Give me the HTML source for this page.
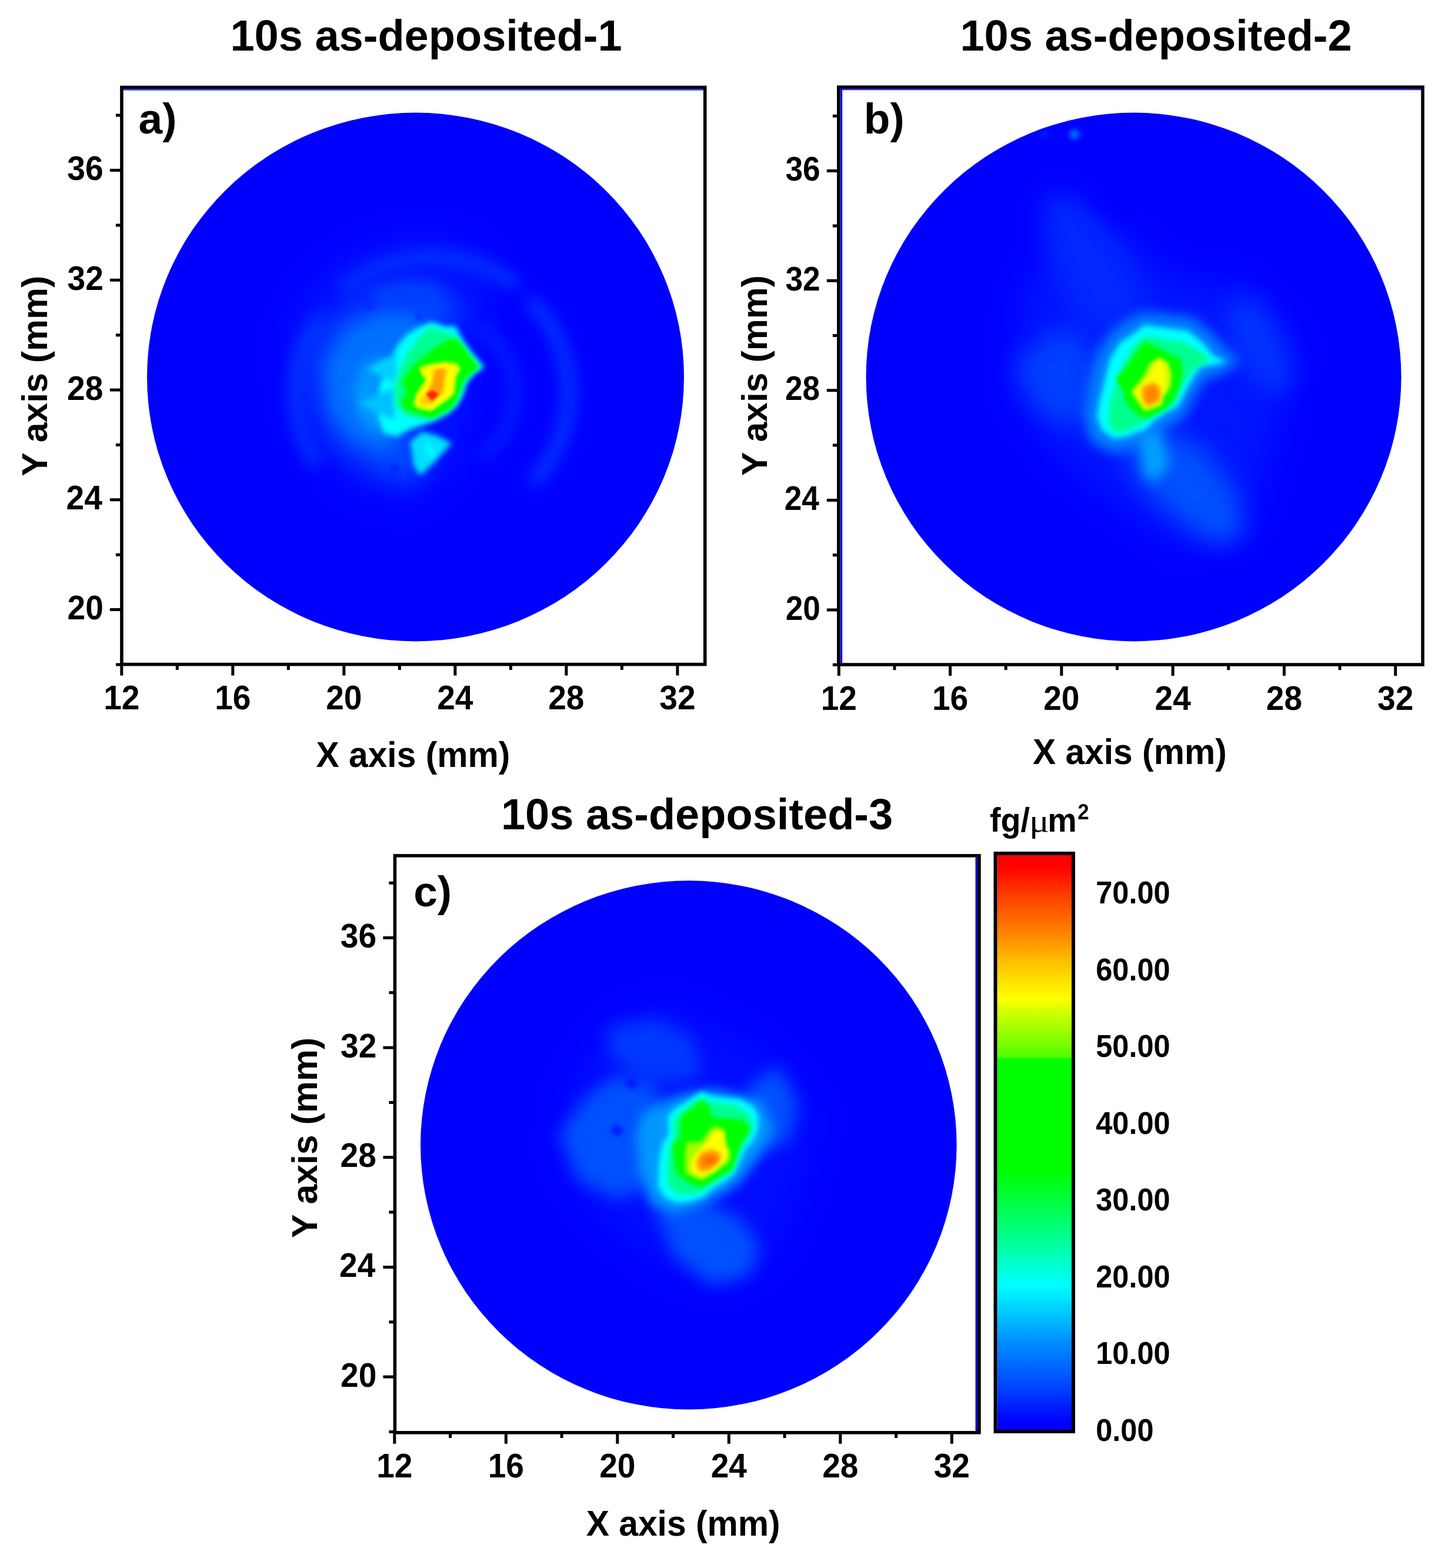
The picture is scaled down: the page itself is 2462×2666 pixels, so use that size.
<!DOCTYPE html>
<html><head><meta charset="utf-8"><title>10s as-deposited</title>
<style>html,body{margin:0;padding:0;background:#fff;width:2462px;height:2666px;overflow:hidden}svg{display:block}text{font-kerning:none}</style>
</head><body>
<svg width="2462" height="2666" viewBox="0 0 2462 2666"><rect width="2462" height="2666" fill="#fff"/><defs><filter id="bl2" x="-50%" y="-50%" width="200%" height="200%" color-interpolation-filters="sRGB"><feGaussianBlur stdDeviation="2"/></filter><filter id="bl3" x="-50%" y="-50%" width="200%" height="200%" color-interpolation-filters="sRGB"><feGaussianBlur stdDeviation="3"/></filter><filter id="bl4" x="-50%" y="-50%" width="200%" height="200%" color-interpolation-filters="sRGB"><feGaussianBlur stdDeviation="4"/></filter><filter id="bl5" x="-50%" y="-50%" width="200%" height="200%" color-interpolation-filters="sRGB"><feGaussianBlur stdDeviation="5"/></filter><filter id="bl9" x="-50%" y="-50%" width="200%" height="200%" color-interpolation-filters="sRGB"><feGaussianBlur stdDeviation="9"/></filter><filter id="bl10" x="-50%" y="-50%" width="200%" height="200%" color-interpolation-filters="sRGB"><feGaussianBlur stdDeviation="10"/></filter><filter id="bl12" x="-50%" y="-50%" width="200%" height="200%" color-interpolation-filters="sRGB"><feGaussianBlur stdDeviation="12"/></filter><filter id="bl14" x="-50%" y="-50%" width="200%" height="200%" color-interpolation-filters="sRGB"><feGaussianBlur stdDeviation="14"/></filter><filter id="bl20" x="-50%" y="-50%" width="200%" height="200%" color-interpolation-filters="sRGB"><feGaussianBlur stdDeviation="20"/></filter><filter id="bl30" x="-50%" y="-50%" width="200%" height="200%" color-interpolation-filters="sRGB"><feGaussianBlur stdDeviation="30"/></filter></defs><text transform="translate(391.4,85.5) scale(1.0000,1)" font-size="74" font-weight="bold" font-family="'Liberation Sans', Arial, sans-serif">10s as-deposited-1</text><text transform="translate(1632.4,85.5) scale(1.0000,1)" font-size="74" font-weight="bold" font-family="'Liberation Sans', Arial, sans-serif">10s as-deposited-2</text><text transform="translate(851.9,1409.6) scale(1.0000,1)" font-size="74" font-weight="bold" font-family="'Liberation Sans', Arial, sans-serif">10s as-deposited-3</text><g id="panel-a"><defs><clipPath id="clip-a"><ellipse cx="706.5" cy="641" rx="456.5" ry="449.4"/></clipPath></defs><ellipse cx="706.5" cy="641" rx="456.5" ry="449.4" fill="#0000ff"/><g clip-path="url(#clip-a)"><g filter="url(#bl30)"><path d="M485.5,576.2L538.3,477.7L626.2,417.9L731.7,400.3L819.7,428.5L837.3,488.3L812.6,576.2L795.1,681.7L784.5,787.3L696.6,857.6L591,822.4L513.7,734.5Z" fill="#0012ff"/></g><g filter="url(#bl12)"><path d="M534.1,781.1L531,775.8L528.1,770.3L525.3,764.8L522.7,759.3L520.3,753.7L518,748L515.8,742.2L513.9,736.4L512,730.5L510.4,724.6L508.9,718.7L507.6,712.7L506.4,706.7L505.4,700.7L504.6,694.6L504,688.5L503.5,682.4L503.2,676.3L503,670.2L503,664.1L503.2,657.9L503.6,651.8L504.1,645.7L504.8,639.6L505.7,633.6L506.7,627.6L507.9,621.5L509.3,615.6L510.9,609.6L512.6,603.8L514.4,597.9L516.4,592.1L518.6,586.4L521,580.7L523.5,575.1L526.1,569.6L528.9,564.1L531.9,558.7L535,553.4L538.3,548.1" fill="none" stroke="#0030ff" stroke-width="26" stroke-linejoin="round" stroke-linecap="round"/><path d="M589.7,486.7L595.7,482.3L601.8,478L608.1,474L614.5,470.1L621,466.5L627.7,463.1L634.4,459.8L641.3,456.8L648.2,454L655.3,451.4L662.4,449.1L669.6,446.9L676.8,445L684.1,443.3L691.5,441.8L698.9,440.6L706.3,439.6L713.8,438.8L721.3,438.3L728.8,438L736.3,437.9L743.9,438.1L751.4,438.5L758.8,439.1L766.3,439.9L773.7,441L781.1,442.3L788.5,443.9L795.8,445.7L803,447.7L810.2,449.9L817.3,452.3L824.3,455L831.2,457.9L838,461L844.7,464.3L851.3,467.8L857.8,471.5L864.1,475.4L870.4,479.5" fill="none" stroke="#0030ff" stroke-width="26" stroke-linejoin="round" stroke-linecap="round"/><path d="M907.4,516.6L912.9,522.8L918.1,529L923,535.5L927.8,542.2L932.3,549L936.5,555.9L940.5,563L944.2,570.3L947.7,577.6L950.9,585.1L953.8,592.7L956.4,600.4L958.7,608.1L960.8,616L962.5,623.9L964,631.8L965.2,639.8L966.1,647.9L966.7,656L967,664.1L967,672.1L966.7,680.2L966.1,688.3L965.2,696.4L964,704.4L962.5,712.3L960.7,720.2L958.7,728.1L956.3,735.8L953.7,743.5L950.8,751.1L947.6,758.6L944.1,765.9L940.4,773.1L936.4,780.2L932.2,787.2L927.7,794L922.9,800.6L917.9,807.1L912.7,813.4" fill="none" stroke="#0030ff" stroke-width="26" stroke-linejoin="round" stroke-linecap="round"/><path d="M815.3,556.2L820.5,559.9L825.5,563.8L830.3,568L834.9,572.3L839.2,576.9L843.4,581.6L847.4,586.6L851.1,591.7L854.5,596.9L857.7,602.3L860.7,607.9L863.4,613.6L865.8,619.4L868,625.3L869.8,631.2L871.4,637.3L872.7,643.4L873.7,649.6L874.4,655.8L874.9,662L875,668.3L874.8,674.5L874.4,680.8L873.6,687L872.6,693.2L871.3,699.3L869.7,705.3L867.8,711.3L865.6,717.2L863.1,723L860.4,728.6L857.4,734.2L854.2,739.6L850.7,744.8L847,749.9L843,754.8L838.8,759.6L834.4,764.1L829.8,768.4L825,772.6" fill="none" stroke="#0020ff" stroke-width="20" stroke-linejoin="round" stroke-linecap="round"/></g><g filter="url(#bl20)"><path d="M527.7,604.4L562.9,541L626.2,505.9L696.6,495.3L752.8,498.8L784.5,519.9L774,548.1L731.7,565.7L696.6,611.4L689.5,716.9L731.7,787.3L696.6,822.4L626.2,797.8L562.9,752.1L531.2,681.7Z" fill="#0048ff"/></g><g filter="url(#bl12)"><path d="M555.9,618.4L591,562.1L647.3,534L696.6,534L724.7,548.1L696.6,611.4L682.5,681.7L679,752.1L647.3,766.2L598.1,745.1L562.9,699.3Z" fill="#0070ff"/><path d="M626.2,491.8L679,477.7L731.7,477.7L759.9,502.4L742.3,530.5L696.6,534L647.3,519.9Z" fill="#0040ff"/></g><g filter="url(#bl9)"><path d="M614,620L643.9,605.6L673.9,614L665.5,679.9L661.9,727.9L637.9,737.5L610.4,709.9L600.8,667.9Z" fill="#0098ff"/></g><g filter="url(#bl5)"><path d="M734.7,547.1L755.3,554.6L774.8,554.6L784.5,574.1L795.3,590.3L810.5,608.7L823.5,623.9L804,636.9L793.2,649.9L786.7,671.5L776.9,688.8L760.7,704L739,714.8L728.2,720L695.8,731L674.1,741.9L652.5,736.5L641.6,704L644.9,660.7L655.7,628.2L665.5,606.6L676.3,587.1L690.3,569.8L712,555.7Z" fill="#00ffff"/><path d="M696.9,751.6L718,733.8L742.3,740.3L768.3,753.2L739.1,785.7L714.7,808.4L703.4,792.2L700.1,767.9Z" fill="#00e0ff"/><path d="M722.9,753.2L735.8,759.7L742.3,772.7L732.6,779.2L726.1,767.9Z" fill="#00ffff"/><path d="M674,600L624,627L674,652Z" fill="#00d0ff"/><path d="M670,660L606,686L670,714Z" fill="#00c0ff"/></g><g filter="url(#bl4)"><path d="M733.6,555.7L760.7,565.5L773.7,571.9L788.8,589.3L806.1,613.1L817,623.9L799.7,639L788.8,655.3L782.3,676.9L771.5,693.2L749.9,706.1L733.6,714.8L706.6,710.5L684.9,704L671.9,687.7L670.9,660.7L676.3,639L684.9,617.4L695.8,595.8L712,574.1Z" fill="#00ff90"/></g><g filter="url(#bl3)"><path d="M773.7,574.1L791,593.6L808.3,617.4L813.7,623.9L797.5,636.9L786.7,649.9L779.1,671.5L769.4,691L749.9,702.9L734.7,710.5L712,704L689.3,697.5L681.7,684.5L691.4,666.1L682.8,647.7L701.2,622.8L722.8,604.4L744.5,587.1Z" fill="#00ff00"/></g><g filter="url(#bl2)"><path d="M713.1,623.9L728.2,619.6L755.3,614.2L776.9,617.4L783.4,627.1L775.8,641.2L772.6,669.4L760.7,680.2L739,695.3L732.6,699.7L712,695.3L702.3,688.8L706.6,671.5L714.2,658.5L723.9,645.5L715.2,634.7Z" fill="#c8ff00"/></g><g filter="url(#bl2)"><path d="M719.6,627.1L733.6,622.8L755.3,619.6L773.7,622.8L778,628.2L771.5,639L768.3,668.3L758.5,676.9L739,691L731.5,693.2L713.1,689.9L707.7,685.6L712,671.5L719.6,659.6L727.1,645.5L719.6,634.7Z" fill="#ffff00"/></g><g filter="url(#bl3)"><path d="M736.9,628.2L753.1,626.1L759.6,629.3L755.3,649.9L754.2,665L742.3,675.8L732.6,686.7L723.9,682.3L723.9,669.4L732.6,655.3L736.9,641.2Z" fill="#ffa000"/><path d="M713.1,682.3L717.4,673.7L726.1,671.5L728.2,682.3L723.9,689.9L715.2,688.8Z" fill="#ffd000"/></g><g filter="url(#bl2)"><path d="M723.9,669.4L735.8,663.9L746.6,670.4L734.7,681.3Z" fill="#ff2000"/></g><g filter="url(#bl4)"><path d="M712,531.9L718.5,538.4L712,544.9L705.5,538.4Z" fill="#0020ff"/><path d="M670.9,790.6L677.4,797.1L670.9,803.6L664.4,797.1Z" fill="#0008ff"/><path d="M628.7,514.6L636.8,521.1L628.7,527.6L620.6,521.1Z" fill="#0020ff"/></g></g><rect x="209.7" y="151.3" width="986.2" height="2.4" fill="#2a2aff"/><rect x="206.9" y="148.5" width="991.8" height="981.1" fill="none" stroke="#000" stroke-width="5.6"/><path d="M206.8,1129.6v19M301.31,1129.6v9.3M395.82,1129.6v19M490.33,1129.6v9.3M584.84,1129.6v19M679.35,1129.6v9.3M773.86,1129.6v19M868.37,1129.6v9.3M962.88,1129.6v19M1057.39,1129.6v9.3M1151.9,1129.6v19M206.9,1129.92h-10M206.9,1036.54h-20M206.9,943.16h-10M206.9,849.78h-20M206.9,756.4h-10M206.9,663.02h-20M206.9,569.64h-10M206.9,476.26h-20M206.9,382.88h-10M206.9,289.5h-20M206.9,196.12h-10" stroke="#000" stroke-width="5.0" fill="none"/><text transform="translate(176.16,1206.2) scale(0.9500,1)" font-size="58" font-weight="bold" font-family="'Liberation Sans', Arial, sans-serif">12</text><text transform="translate(365.18,1206.2) scale(0.9500,1)" font-size="58" font-weight="bold" font-family="'Liberation Sans', Arial, sans-serif">16</text><text transform="translate(554.2,1206.2) scale(0.9500,1)" font-size="58" font-weight="bold" font-family="'Liberation Sans', Arial, sans-serif">20</text><text transform="translate(743.22,1206.2) scale(0.9500,1)" font-size="58" font-weight="bold" font-family="'Liberation Sans', Arial, sans-serif">24</text><text transform="translate(932.24,1206.2) scale(0.9500,1)" font-size="58" font-weight="bold" font-family="'Liberation Sans', Arial, sans-serif">28</text><text transform="translate(1121.26,1206.2) scale(0.9500,1)" font-size="58" font-weight="bold" font-family="'Liberation Sans', Arial, sans-serif">32</text><text transform="translate(114.57,1053.14) scale(0.9500,1)" font-size="58" font-weight="bold" font-family="'Liberation Sans', Arial, sans-serif">20</text><text transform="translate(112.61,866.38) scale(0.9500,1)" font-size="58" font-weight="bold" font-family="'Liberation Sans', Arial, sans-serif">24</text><text transform="translate(114.01,679.62) scale(0.9500,1)" font-size="58" font-weight="bold" font-family="'Liberation Sans', Arial, sans-serif">28</text><text transform="translate(114.52,492.86) scale(0.9500,1)" font-size="58" font-weight="bold" font-family="'Liberation Sans', Arial, sans-serif">32</text><text transform="translate(114.3,306.1) scale(0.9500,1)" font-size="58" font-weight="bold" font-family="'Liberation Sans', Arial, sans-serif">36</text></g><g id="panel-b"><defs><clipPath id="clip-b"><ellipse cx="1927.5" cy="641" rx="455" ry="449.4"/></clipPath></defs><ellipse cx="1927.5" cy="641" rx="455" ry="449.4" fill="#0000ff"/><g clip-path="url(#clip-b)"><g filter="url(#bl30)"><path d="M1744.8,485.2L1816.1,393.6L1917.8,408.9L2019.5,485.2L2121.2,485.2L2202.6,586.9L2172.1,714.1L2121.2,892.1L2019.5,932.8L1917.8,866.7L1790.6,764.9L1724.5,663.2Z" fill="#0016ff"/></g><g filter="url(#bl20)"><path d="M1775.4,332.6L1826.2,332.6L1907.6,419.1L1948.3,510.6L1917.8,566.6L1846.6,556.4L1805.9,485.2L1775.4,403.8Z" fill="#0028ff"/><path d="M1724.5,622.5L1775.4,571.7L1826.2,561.5L1856.7,597.1L1861.8,688.6L1816.1,729.3L1760.1,693.7Z" fill="#0040ff"/><path d="M2085.6,536.1L2116.2,495.4L2156.8,536.1L2197.5,627.6L2182.3,673.4L2136.5,653L2100.9,602.2Z" fill="#0034ff"/><path d="M1917.8,739.5L1968.6,724.3L2044.9,759.9L2100.9,836.2L2116.2,907.4L2070.4,927.7L1999.2,881.9L1943.2,831.1L1917.8,780.2Z" fill="#0050ff"/></g><g filter="url(#bl4)"><path d="M1816.1,228.3L1826.2,218.1L1838.9,228.3L1826.2,238.5Z" fill="#0070ff"/><path d="M1767.7,228.3L1775.4,223.2L1783,228.3L1775.4,233.4Z" fill="#0030ff"/></g><g filter="url(#bl10)"><path d="M1946.1,529.7L2027.3,539.5L2059.7,565.5L2084.1,593.1L2108.4,614.2L2076,636.9L2051.6,643.4L2035.4,666.1L2024,690.5L2011,711.6L1986.7,724.5L1970.5,735.9L1955.8,752.1L1913.6,766.8L1890.9,770L1853.6,750.5L1842.2,706.7L1848.7,666.1L1856.8,625.5L1868.2,593.1L1890.9,562.2L1921.8,541.1Z" fill="#0080ff"/><path d="M1938.1,749.7L1973.7,734.4L1989,790.4L1963.6,820.9L1943.2,805.6Z" fill="#00a0ff"/></g><g filter="url(#bl5)"><path d="M1946.1,552.5L2019.2,562.2L2043.5,581.7L2063,604.4L2085.7,615.8L2059.7,620.6L2040.3,623.9L2024,649.9L2011,674.2L2002.9,690.5L1978.6,703.4L1962.3,714.8L1949.4,729.4L1913.6,742.4L1894.2,745.6L1873.1,731L1864.9,706.7L1871.4,674.2L1879.5,641.8L1887.7,609.3L1905.5,581.7L1929.9,565.5Z" fill="#00ffff"/></g><g filter="url(#bl4)"><path d="M1947.7,571.9L2011,581.7L2038.6,596.3L2059.7,610.9L2043.5,620.6L2030.5,627.1L2014.3,649.9L2002.9,674.2L1986.7,695.3L1962.3,708.3L1946.1,718.1L1913.6,734.3L1892.5,735.9L1884.4,714.8L1887.7,682.3L1897.4,649.9L1910.4,617.4L1926.6,588.2Z" fill="#00ff90"/></g><g filter="url(#bl3)"><path d="M1946.1,580.1L1978.6,596.3L2007.8,610.9L2011,633.6L2004.5,658L1994.8,682.3L1975.3,698.6L1949.4,709.9L1942.9,711.6L1926.6,698.6L1913.6,682.3L1910.4,666.1L1897.4,643.4L1913.6,625.5L1929.9,601.2Z" fill="#00ff00"/></g><g filter="url(#bl3)"><path d="M1970.5,607.7L1985.1,615.8L1991.6,633.6L1989.9,658L1978.6,674.2L1975.3,688.8L1949.4,698.6L1942.9,695.3L1923.4,666.1L1934.7,653.1L1946.1,636.9L1955.8,617.4Z" fill="#d0ff00"/></g><g filter="url(#bl3)"><path d="M1970.5,614.2L1978.6,620.6L1981.8,636.9L1980.2,659.6L1972.1,675.8L1968.8,685.6L1951,692.1L1944.5,688.8L1929.9,666.1L1939.6,656.4L1952.6,643.4L1962.3,623.9Z" fill="#ffff00"/></g><g filter="url(#bl4)"><path d="M1941.2,659.6L1962.3,649.9L1972.1,659.6L1972.1,680.7L1952.6,690.5L1944.5,684Z" fill="#ff8800"/></g></g><rect x="1428.6" y="150.9" width="987.6" height="2.4" fill="#2a2aff"/><rect x="1428.6" y="150.9" width="3.6" height="976.3" fill="#1010f0"/><rect x="1425.8" y="148.1" width="993.2" height="981.9" fill="none" stroke="#000" stroke-width="5.6"/><path d="M1426.3,1130v19M1520.94,1130v9.3M1615.58,1130v19M1710.22,1130v9.3M1804.86,1130v19M1899.5,1130v9.3M1994.14,1130v19M2088.78,1130v9.3M2183.42,1130v19M2278.06,1130v9.3M2372.7,1130v19M1425.8,1130.3h-10M1425.8,1037h-20M1425.8,943.7h-10M1425.8,850.4h-20M1425.8,757.1h-10M1425.8,663.8h-20M1425.8,570.5h-10M1425.8,477.2h-20M1425.8,383.9h-10M1425.8,290.6h-20M1425.8,197.3h-10" stroke="#000" stroke-width="5.0" fill="none"/><text transform="translate(1395.66,1206.6) scale(0.9500,1)" font-size="58" font-weight="bold" font-family="'Liberation Sans', Arial, sans-serif">12</text><text transform="translate(1584.94,1206.6) scale(0.9500,1)" font-size="58" font-weight="bold" font-family="'Liberation Sans', Arial, sans-serif">16</text><text transform="translate(1774.22,1206.6) scale(0.9500,1)" font-size="58" font-weight="bold" font-family="'Liberation Sans', Arial, sans-serif">20</text><text transform="translate(1963.5,1206.6) scale(0.9500,1)" font-size="58" font-weight="bold" font-family="'Liberation Sans', Arial, sans-serif">24</text><text transform="translate(2152.78,1206.6) scale(0.9500,1)" font-size="58" font-weight="bold" font-family="'Liberation Sans', Arial, sans-serif">28</text><text transform="translate(2342.06,1206.6) scale(0.9500,1)" font-size="58" font-weight="bold" font-family="'Liberation Sans', Arial, sans-serif">32</text><text transform="translate(1335.65,1053.6) scale(0.9150,1)" font-size="58" font-weight="bold" font-family="'Liberation Sans', Arial, sans-serif">20</text><text transform="translate(1333.76,867) scale(0.9150,1)" font-size="58" font-weight="bold" font-family="'Liberation Sans', Arial, sans-serif">24</text><text transform="translate(1335.1,680.4) scale(0.9150,1)" font-size="58" font-weight="bold" font-family="'Liberation Sans', Arial, sans-serif">28</text><text transform="translate(1335.59,493.8) scale(0.9150,1)" font-size="58" font-weight="bold" font-family="'Liberation Sans', Arial, sans-serif">32</text><text transform="translate(1335.39,307.2) scale(0.9150,1)" font-size="58" font-weight="bold" font-family="'Liberation Sans', Arial, sans-serif">36</text></g><g id="panel-c"><defs><clipPath id="clip-c"><ellipse cx="1170.8" cy="1946.9" rx="455.8" ry="449.6"/></clipPath></defs><ellipse cx="1170.8" cy="1946.9" rx="455.8" ry="449.6" fill="#0000ff"/><g clip-path="url(#clip-c)"><g filter="url(#bl30)"><path d="M969.5,1841.1L1035.6,1739.3L1137.3,1703.7L1213.6,1739.3L1315.4,1790.2L1391.7,1891.9L1366.2,2019.1L1315.4,2146.2L1213.6,2186.9L1111.9,2146.2L1010.2,2069.9L949.2,1968.2Z" fill="#000cff"/></g><g filter="url(#bl14)"><path d="M951,1926L1000,1861L1048,1828L1113,1844L1136,1893L1123,1974L1097,2023L1048,2039L983,2007Z" fill="#0050ff"/><path d="M1032,1747L1113,1731L1178,1763L1194,1828L1146,1844L1081,1828L1038,1796Z" fill="#0038ff"/><path d="M1275,1844L1324,1812L1357,1877L1340,1942L1292,1958L1262,1909Z" fill="#0050ff"/><path d="M1113,2055L1194,2039L1259,2072L1292,2120L1275,2169L1211,2185L1146,2137Z" fill="#0050ff"/></g><g filter="url(#bl10)"><path d="M1091.6,1891.9L1152.6,1861.4L1213.6,1851.2L1295,1871.6L1315.4,1922.4L1289.9,1968.2L1254.3,2014L1203.5,2044.5L1147.5,2064.9L1106.8,2049.6L1086.5,1993.6L1081.4,1932.6Z" fill="#0098ff"/></g><g filter="url(#bl5)"><path d="M1061.1,1841.1L1073.8,1833.4L1086.5,1843.6L1073.8,1851.2Z" fill="#0010ff"/><path d="M1038.2,1922.4L1048.3,1912.3L1061.1,1922.4L1048.3,1932.6Z" fill="#0010ff"/></g><g filter="url(#bl5)"><path d="M1193.1,1855.5L1211,1863.8L1234.8,1866.2L1258.6,1868.6L1280,1880.5L1289.5,1897.1L1288.3,1923.3L1276.4,1944.8L1265.7,1954.3L1256.2,1976.9L1246.7,1997.1L1228.8,2010.2L1205,2025.7L1196.7,2035.2L1175.2,2042.4L1151.4,2044.8L1131.2,2036.4L1119.3,2018.6L1119.3,1988.8L1122.9,1959L1126.4,1943.6L1137.1,1929.3L1134.8,1899.5L1146.7,1885.2L1163.3,1875.7L1181.2,1863.8Z" fill="#00ffff"/></g><g filter="url(#bl4)"><path d="M1193.1,1863.8L1208.6,1873.3L1246.7,1878.1L1270.5,1890L1281.2,1911.4L1272.9,1935.2L1263.3,1949.5L1255,1971L1245.5,1992.4L1225.2,2005.5L1205,2016.2L1193.1,2026.9L1172.9,2030.5L1151.4,2030.5L1136,2016.2L1133.6,1988.8L1137.1,1959L1141.9,1942.4L1146.7,1925.7L1144.3,1906.7L1157.4,1890L1175.2,1875.7Z" fill="#00ff90"/></g><g filter="url(#bl3)"><path d="M1193.1,1871L1205,1879.3L1211,1899.5L1263.3,1904.3L1276.4,1921L1265.7,1935.2L1258.6,1947.1L1252.6,1965L1244.3,1988.8L1222.9,2000.7L1206.2,2011.4L1191.9,2018.6L1172.9,2012.6L1151.4,1997.1L1146.7,1976.9L1143.1,1947.1L1156.2,1932.9L1157.4,1899.5L1175.2,1885.2Z" fill="#00ff00"/></g><g filter="url(#bl3)"><path d="M1216.9,1913.8L1232.4,1922.1L1234.8,1947.1L1241.9,1959L1240.7,1973.3L1228.8,1982.9L1213.3,1994.8L1193.1,2006.7L1165.7,1994.8L1164.5,1971L1166.9,1942.4L1193.1,1941.2L1205,1923.3Z" fill="#a0ff00"/></g><g filter="url(#bl3)"><path d="M1216.9,1921L1230,1925.7L1232.4,1947.1L1237.1,1959L1234.8,1971L1222.9,1982.9L1211,1992.4L1193.1,2000.7L1174,1993.6L1175.2,1971L1184.8,1959L1199,1944.8L1208.6,1929.3Z" fill="#ffff00"/></g><g filter="url(#bl4)"><path d="M1193.1,1959L1211,1955.5L1225.2,1961.4L1221.7,1976.9L1206.2,1988.8L1190.7,1992.4L1183.6,1976.9Z" fill="#ff8c00"/></g><g filter="url(#bl4)"><path d="M1199,1968.6L1213.3,1966.2L1219.3,1972.1L1208.6,1979.3L1197.9,1976.9Z" fill="#ff6400"/></g></g><rect x="1658.5" y="1457.7" width="3.6" height="975.3" fill="#0808d8"/><rect x="671.4" y="1454.9" width="993.5" height="980.9" fill="none" stroke="#000" stroke-width="5.6"/><path d="M670.8,2435.8v19M765.55,2435.8v9.3M860.3,2435.8v19M955.05,2435.8v9.3M1049.8,2435.8v19M1144.55,2435.8v9.3M1239.3,2435.8v19M1334.05,2435.8v9.3M1428.8,2435.8v19M1523.55,2435.8v9.3M1618.3,2435.8v19M671.4,2434.38h-10M671.4,2341.06h-20M671.4,2247.74h-10M671.4,2154.42h-20M671.4,2061.1h-10M671.4,1967.78h-20M671.4,1874.46h-10M671.4,1781.14h-20M671.4,1687.82h-10M671.4,1594.5h-20M671.4,1501.18h-10" stroke="#000" stroke-width="5.0" fill="none"/><text transform="translate(640.16,2512.4) scale(0.9500,1)" font-size="58" font-weight="bold" font-family="'Liberation Sans', Arial, sans-serif">12</text><text transform="translate(829.66,2512.4) scale(0.9500,1)" font-size="58" font-weight="bold" font-family="'Liberation Sans', Arial, sans-serif">16</text><text transform="translate(1019.16,2512.4) scale(0.9500,1)" font-size="58" font-weight="bold" font-family="'Liberation Sans', Arial, sans-serif">20</text><text transform="translate(1208.66,2512.4) scale(0.9500,1)" font-size="58" font-weight="bold" font-family="'Liberation Sans', Arial, sans-serif">24</text><text transform="translate(1398.16,2512.4) scale(0.9500,1)" font-size="58" font-weight="bold" font-family="'Liberation Sans', Arial, sans-serif">28</text><text transform="translate(1587.66,2512.4) scale(0.9500,1)" font-size="58" font-weight="bold" font-family="'Liberation Sans', Arial, sans-serif">32</text><text transform="translate(579.07,2357.66) scale(0.9500,1)" font-size="58" font-weight="bold" font-family="'Liberation Sans', Arial, sans-serif">20</text><text transform="translate(577.11,2171.02) scale(0.9500,1)" font-size="58" font-weight="bold" font-family="'Liberation Sans', Arial, sans-serif">24</text><text transform="translate(578.51,1984.38) scale(0.9500,1)" font-size="58" font-weight="bold" font-family="'Liberation Sans', Arial, sans-serif">28</text><text transform="translate(579.02,1797.74) scale(0.9500,1)" font-size="58" font-weight="bold" font-family="'Liberation Sans', Arial, sans-serif">32</text><text transform="translate(578.8,1611.1) scale(0.9500,1)" font-size="58" font-weight="bold" font-family="'Liberation Sans', Arial, sans-serif">36</text></g><text transform="translate(235.6,226.7) scale(1.0000,1)" font-size="73" font-weight="bold" font-family="'Liberation Sans', Arial, sans-serif">a)</text><text transform="translate(1468.8,226.7) scale(1.0000,1)" font-size="73" font-weight="bold" font-family="'Liberation Sans', Arial, sans-serif">b)</text><text transform="translate(703.2,1541.1) scale(1.0000,1)" font-size="73" font-weight="bold" font-family="'Liberation Sans', Arial, sans-serif">c)</text><text transform="translate(537.5,1304.3) scale(0.9480,1)" font-size="62" font-weight="bold" font-family="'Liberation Sans', Arial, sans-serif">X axis (mm)</text><text transform="translate(1755.9,1299.3) scale(0.9480,1)" font-size="62" font-weight="bold" font-family="'Liberation Sans', Arial, sans-serif">X axis (mm)</text><text transform="translate(996.7,2611.2) scale(0.9480,1)" font-size="62" font-weight="bold" font-family="'Liberation Sans', Arial, sans-serif">X axis (mm)</text><text transform="translate(80.4,809.7) rotate(-90) scale(0.9800,1)" font-size="62" font-weight="bold" font-family="'Liberation Sans', Arial, sans-serif">Y axis (mm)</text><text transform="translate(1304,809) rotate(-90) scale(0.9800,1)" font-size="62" font-weight="bold" font-family="'Liberation Sans', Arial, sans-serif">Y axis (mm)</text><text transform="translate(539,2105) rotate(-90) scale(0.9800,1)" font-size="62" font-weight="bold" font-family="'Liberation Sans', Arial, sans-serif">Y axis (mm)</text><defs><linearGradient id="cbg" x1="0" y1="0" x2="0" y2="1"><stop offset="0.0000" stop-color="#ff0000"/><stop offset="0.0200" stop-color="#ff0000"/><stop offset="0.0720" stop-color="#ff4000"/><stop offset="0.1320" stop-color="#ff8000"/><stop offset="0.1840" stop-color="#ffbe00"/><stop offset="0.2493" stop-color="#ffff00"/><stop offset="0.2720" stop-color="#d2ff00"/><stop offset="0.3107" stop-color="#96ff00"/><stop offset="0.3507" stop-color="#50ff00"/><stop offset="0.3560" stop-color="#00ff00"/><stop offset="0.5493" stop-color="#00ff00"/><stop offset="0.6147" stop-color="#00ff50"/><stop offset="0.6800" stop-color="#00ffa0"/><stop offset="0.7480" stop-color="#00ffff"/><stop offset="0.7973" stop-color="#00c8ff"/><stop offset="0.8493" stop-color="#008cff"/><stop offset="0.9147" stop-color="#0050ff"/><stop offset="0.9880" stop-color="#0000ff"/><stop offset="1.0000" stop-color="#0000ff"/></linearGradient></defs><rect x="1695.5" y="1454" width="126.5" height="977" fill="url(#cbg)"/><rect x="1692.5" y="1451" width="132.5" height="983" fill="none" stroke="#000" stroke-width="6"/><text transform="translate(1863.2,2449.5) scale(0.9280,1)" font-size="54.5" font-weight="bold" font-family="'Liberation Sans', Arial, sans-serif">0.00</text><text transform="translate(1863.2,2319) scale(0.9280,1)" font-size="54.5" font-weight="bold" font-family="'Liberation Sans', Arial, sans-serif">10.00</text><text transform="translate(1863.2,2188.5) scale(0.9280,1)" font-size="54.5" font-weight="bold" font-family="'Liberation Sans', Arial, sans-serif">20.00</text><text transform="translate(1863.2,2058) scale(0.9280,1)" font-size="54.5" font-weight="bold" font-family="'Liberation Sans', Arial, sans-serif">30.00</text><text transform="translate(1863.2,1927.5) scale(0.9280,1)" font-size="54.5" font-weight="bold" font-family="'Liberation Sans', Arial, sans-serif">40.00</text><text transform="translate(1863.2,1797) scale(0.9280,1)" font-size="54.5" font-weight="bold" font-family="'Liberation Sans', Arial, sans-serif">50.00</text><text transform="translate(1863.2,1666.5) scale(0.9280,1)" font-size="54.5" font-weight="bold" font-family="'Liberation Sans', Arial, sans-serif">60.00</text><text transform="translate(1863.2,1536) scale(0.9280,1)" font-size="54.5" font-weight="bold" font-family="'Liberation Sans', Arial, sans-serif">70.00</text><text transform="translate(1683.05,1414) scale(0.9770,1)" font-size="57" font-weight="bold" font-family="'Liberation Sans', Arial, sans-serif">fg/</text><text transform="translate(1749.88,1414) scale(1.1500,1)" font-size="55" font-weight="normal" font-family="'Liberation Serif', serif">μ</text><text transform="translate(1781.33,1414) scale(0.9770,1)" font-size="57" font-weight="bold" font-family="'Liberation Sans', Arial, sans-serif">m</text><text transform="translate(1832.19,1392.9) scale(0.9550,1)" font-size="36.5" font-weight="bold" font-family="'Liberation Sans', Arial, sans-serif">2</text></svg>
</body></html>
